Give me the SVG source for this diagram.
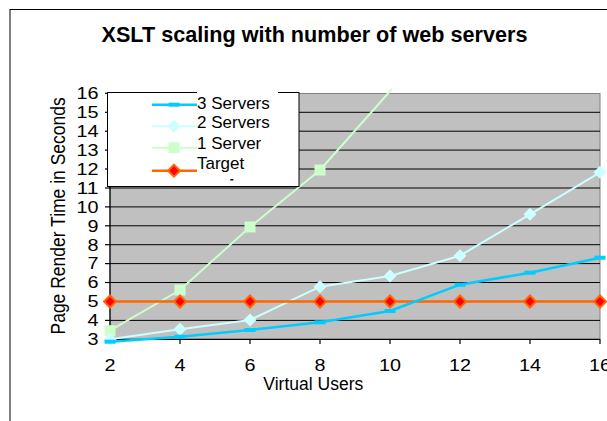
<svg xmlns="http://www.w3.org/2000/svg" width="607" height="421" viewBox="0 0 607 421">
  <style>
    .title { font-family: "Liberation Sans", Arial, sans-serif; font-weight: bold; font-size: 21.5px; fill: #000; }
    .tick { font-family: "Liberation Sans", Arial, sans-serif; font-size: 16px; fill: #000; }
    .axis-title { font-family: "Liberation Sans", Arial, sans-serif; font-size: 17.5px; fill: #000; }
    .legend-text { font-family: "Liberation Sans", Arial, sans-serif; font-size: 17px; fill: #000; }
    .grid { stroke: #000; stroke-width: 1; }
    .axis { stroke: #000; stroke-width: 1.2; fill: none; }
    .s3 { stroke: #00CCFF; stroke-width: 2.5; fill: none; }
    .s2 { stroke: #CCFFFF; stroke-width: 2; fill: none; }
    .s1 { stroke: #CCFFCC; stroke-width: 2; fill: none; }
    .tgt { stroke: #FF6600; stroke-width: 2.5; fill: none; }
  </style>
  <defs>
    <rect id="m3" x="-5.5" y="-2" width="11" height="4" fill="#00CCFF"/>
    <path id="m2" d="M0,-6.5 L6.5,0 L0,6.5 L-6.5,0 Z" fill="#CCFFFF"/>
    <rect id="m1" x="-5.5" y="-5.5" width="11" height="11" fill="#CCFFCC"/>
    <path id="mt" d="M0,-6 L6,0 L0,6 L-6,0 Z" fill="#FF0000" stroke="#FF6600" stroke-width="2"/>
    <clipPath id="ytitle-clip">
      <rect x="0" y="95" width="100" height="300"/>
    </clipPath>
  </defs>

  <!-- chart area -->
  <rect x="0" y="0" width="607" height="421" fill="#fff"/>
  <rect x="10" y="9.5" width="620" height="430" fill="#fff" stroke="#000" stroke-width="1"/>

  <text class="title" x="314.5" y="42.4" text-anchor="middle" textLength="426" lengthAdjust="spacingAndGlyphs">XSLT scaling with number of web servers</text>

  <!-- plot area -->
  <g id="plot-area">
    <rect x="110" y="93.5" width="490" height="246" fill="#C0C0C0" stroke="#808080" stroke-width="1"/>
    <g class="grid">
      <line x1="110" y1="112.3" x2="600" y2="112.3"/>
      <line x1="110" y1="131.2" x2="600" y2="131.2"/>
      <line x1="110" y1="150.1" x2="600" y2="150.1"/>
      <line x1="110" y1="169" x2="600" y2="169"/>
      <line x1="110" y1="188" x2="600" y2="188"/>
      <line x1="110" y1="206.9" x2="600" y2="206.9"/>
      <line x1="110" y1="225.8" x2="600" y2="225.8"/>
      <line x1="110" y1="244.7" x2="600" y2="244.7"/>
      <line x1="110" y1="263.6" x2="600" y2="263.6"/>
      <line x1="110" y1="282.5" x2="600" y2="282.5"/>
      <line x1="110" y1="301.5" x2="600" y2="301.5"/>
      <line x1="110" y1="320.4" x2="600" y2="320.4"/>
    </g>
  </g>

  <!-- axes -->
  <g id="y-axis">
    <line class="axis" x1="110" y1="93.3" x2="110" y2="339.3"/>
    <g class="axis">
      <line x1="105" y1="93.3" x2="110" y2="93.3"/>
      <line x1="105" y1="112.3" x2="110" y2="112.3"/>
      <line x1="105" y1="131.2" x2="110" y2="131.2"/>
      <line x1="105" y1="150.1" x2="110" y2="150.1"/>
      <line x1="105" y1="169" x2="110" y2="169"/>
      <line x1="105" y1="188" x2="110" y2="188"/>
      <line x1="105" y1="206.9" x2="110" y2="206.9"/>
      <line x1="105" y1="225.8" x2="110" y2="225.8"/>
      <line x1="105" y1="244.7" x2="110" y2="244.7"/>
      <line x1="105" y1="263.6" x2="110" y2="263.6"/>
      <line x1="105" y1="282.5" x2="110" y2="282.5"/>
      <line x1="105" y1="301.5" x2="110" y2="301.5"/>
      <line x1="105" y1="320.4" x2="110" y2="320.4"/>
      <line x1="105" y1="339.3" x2="110" y2="339.3"/>
    </g>
    <g class="tick" text-anchor="end">
      <text x="98.5" y="99.1" textLength="22" lengthAdjust="spacingAndGlyphs">16</text>
      <text x="98.5" y="118.1" textLength="22" lengthAdjust="spacingAndGlyphs">15</text>
      <text x="98.5" y="137" textLength="22" lengthAdjust="spacingAndGlyphs">14</text>
      <text x="98.5" y="155.9" textLength="22" lengthAdjust="spacingAndGlyphs">13</text>
      <text x="98.5" y="174.8" textLength="22" lengthAdjust="spacingAndGlyphs">12</text>
      <text x="98.5" y="193.8" textLength="22" lengthAdjust="spacingAndGlyphs">11</text>
      <text x="98.5" y="212.7" textLength="22" lengthAdjust="spacingAndGlyphs">10</text>
      <text x="98.5" y="231.6" textLength="11" lengthAdjust="spacingAndGlyphs">9</text>
      <text x="98.5" y="250.5" textLength="11" lengthAdjust="spacingAndGlyphs">8</text>
      <text x="98.5" y="269.4" textLength="11" lengthAdjust="spacingAndGlyphs">7</text>
      <text x="98.5" y="288.3" textLength="11" lengthAdjust="spacingAndGlyphs">6</text>
      <text x="98.5" y="307.3" textLength="11" lengthAdjust="spacingAndGlyphs">5</text>
      <text x="98.5" y="326.2" textLength="11" lengthAdjust="spacingAndGlyphs">4</text>
      <text x="98.5" y="345.1" textLength="11" lengthAdjust="spacingAndGlyphs">3</text>
    </g>
    <g clip-path="url(#ytitle-clip)">
      <text class="axis-title" transform="translate(65,334.5) rotate(-90) scale(1,1.17)" x="0" y="0" font-size="18">Page Render Time in Seconds</text>
    </g>
  </g>

  <g id="x-axis">
    <line class="axis" x1="110" y1="339.3" x2="600" y2="339.3"/>
    <g class="axis">
      <line x1="110" y1="339.3" x2="110" y2="344"/>
      <line x1="180" y1="339.3" x2="180" y2="344"/>
      <line x1="250" y1="339.3" x2="250" y2="344"/>
      <line x1="320" y1="339.3" x2="320" y2="344"/>
      <line x1="390" y1="339.3" x2="390" y2="344"/>
      <line x1="460" y1="339.3" x2="460" y2="344"/>
      <line x1="530" y1="339.3" x2="530" y2="344"/>
      <line x1="600" y1="339.3" x2="600" y2="344"/>
    </g>
    <g class="tick" text-anchor="middle">
      <text x="110" y="370.5" textLength="11" lengthAdjust="spacingAndGlyphs">2</text>
      <text x="180" y="370.5" textLength="11" lengthAdjust="spacingAndGlyphs">4</text>
      <text x="250" y="370.5" textLength="11" lengthAdjust="spacingAndGlyphs">6</text>
      <text x="320" y="370.5" textLength="11" lengthAdjust="spacingAndGlyphs">8</text>
      <text x="390" y="370.5" textLength="22" lengthAdjust="spacingAndGlyphs">10</text>
      <text x="460" y="370.5" textLength="22" lengthAdjust="spacingAndGlyphs">12</text>
      <text x="530" y="370.5" textLength="22" lengthAdjust="spacingAndGlyphs">14</text>
      <text x="600" y="370.5" textLength="22" lengthAdjust="spacingAndGlyphs">16</text>
    </g>
    <text class="axis-title" x="313.3" y="390" text-anchor="middle">Virtual Users</text>
  </g>

  <!-- data series -->
  <g id="connectors">
    <polyline id="series-1-server" class="s1" points="110,330.7 180,290 250,227 320,170 392,89"/>
    <polyline id="series-2-servers" class="s2" points="110,339.3 180,329.3 250,320 320,286.7 390,276 460,255.7 530,214.3 600,172.3"/>
    <polyline id="series-target" class="tgt" points="110,301.5 180,301.5 250,301.5 320,301.5 390,301.5 460,301.5 530,301.5 600,301.5"/>
    <polyline id="series-3-servers" class="s3" points="110,341.7 180,336.7 250,330 320,322.3 390,311 460,284.7 530,272.7 600,257.7"/>
  </g>

  <g id="markers-1-server">
    <use href="#m1" x="110" y="330.7"/>
    <use href="#m1" x="180" y="290"/>
    <use href="#m1" x="250" y="227"/>
    <use href="#m1" x="320" y="170"/>
  </g>
  <g id="markers-2-servers">
    <use href="#m2" x="110" y="339.3"/>
    <use href="#m2" x="180" y="329.3"/>
    <use href="#m2" x="250" y="320"/>
    <use href="#m2" x="320" y="286.7"/>
    <use href="#m2" x="390" y="276"/>
    <use href="#m2" x="460" y="255.7"/>
    <use href="#m2" x="530" y="214.3"/>
    <use href="#m2" x="600" y="172.3"/>
  </g>
  <g id="markers-target">
    <use href="#mt" x="110" y="301.5"/>
    <use href="#mt" x="180" y="301.5"/>
    <use href="#mt" x="250" y="301.5"/>
    <use href="#mt" x="320" y="301.5"/>
    <use href="#mt" x="390" y="301.5"/>
    <use href="#mt" x="460" y="301.5"/>
    <use href="#mt" x="530" y="301.5"/>
    <use href="#mt" x="600" y="301.5"/>
  </g>
  <g id="markers-3-servers">
    <use href="#m3" x="110" y="341.7"/>
    <use href="#m3" x="180" y="336.7"/>
    <use href="#m3" x="250" y="330"/>
    <use href="#m3" x="320" y="322.3"/>
    <use href="#m3" x="390" y="311"/>
    <use href="#m3" x="460" y="284.7"/>
    <use href="#m3" x="530" y="272.7"/>
    <use href="#m3" x="600" y="257.7"/>
  </g>

  <!-- legend -->
  <g id="legend">
    <rect x="107.5" y="92.5" width="191.5" height="94" fill="#fff" stroke="#000" stroke-width="1"/>
    <rect x="197" y="91" width="81" height="12" fill="#fff"/>
    <g id="legend-3-servers">
      <line class="s3" x1="152" y1="104.7" x2="197" y2="104.7"/>
      <use href="#m3" x="174" y="104.7"/>
      <text class="legend-text" x="197" y="109.3">3 Servers</text>
    </g>
    <g id="legend-2-servers">
      <line class="s2" x1="152" y1="126.3" x2="197" y2="126.3"/>
      <use href="#m2" x="174" y="126.3"/>
      <text class="legend-text" x="197" y="128">2 Servers</text>
    </g>
    <g id="legend-1-server">
      <line class="s1" x1="152" y1="147.7" x2="197" y2="147.7"/>
      <use href="#m1" x="174" y="147.7"/>
      <text class="legend-text" x="197" y="148.7">1 Server</text>
    </g>
    <g id="legend-target">
      <line class="tgt" x1="152" y1="170.7" x2="197" y2="170.7"/>
      <use href="#mt" x="174" y="170.7"/>
      <text class="legend-text" x="197" y="169.3">Target</text>
    </g>
    <rect x="230.3" y="179" width="3" height="1.5" fill="#000"/>
  </g>
</svg>
